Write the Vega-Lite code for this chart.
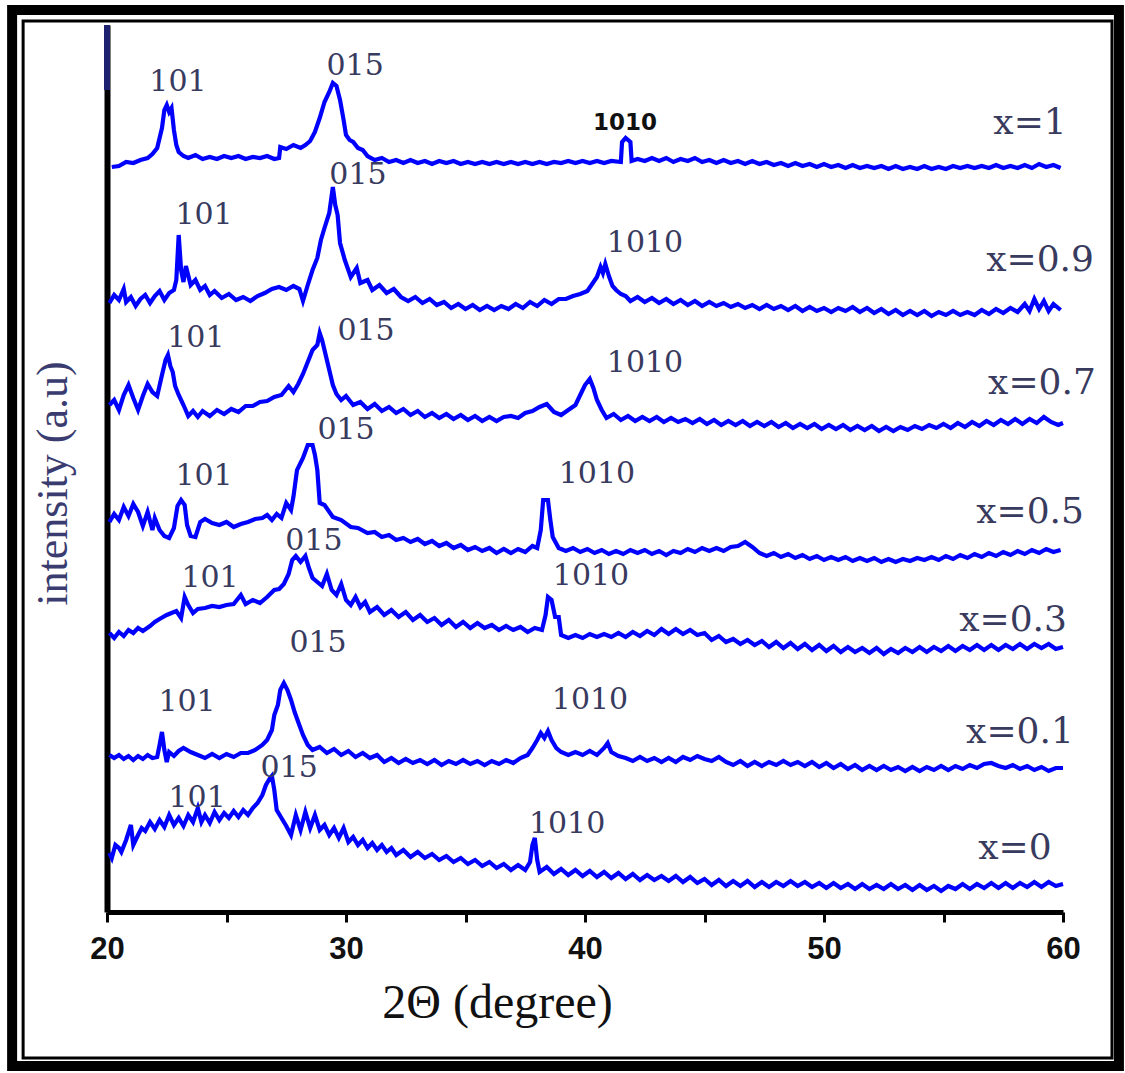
{
"$schema": "https://vega.github.io/schema/vega-lite/v6.json",
"width": 956, "height": 887,
"autosize": {"type": "none"},
"padding": {"left": 107, "top": 25, "right": 62, "bottom": 161},
"background": "white",
"config": {"view": {"stroke": null}},
"datasets": {
"xrd": [
{"s":"x=1","t":20.2,"i":745},{"s":"x=1","t":20.5,"i":746},{"s":"x=1","t":20.8,"i":750},{"s":"x=1","t":21.1,"i":749},{"s":"x=1","t":21.4,"i":752},{"s":"x=1","t":21.7,"i":754},{"s":"x=1","t":21.9,"i":758},{"s":"x=1","t":22.1,"i":764},{"s":"x=1","t":22.3,"i":784},{"s":"x=1","t":22.4,"i":802},{"s":"x=1","t":22.5,"i":807},{"s":"x=1","t":22.6,"i":800},{"s":"x=1","t":22.7,"i":804},{"s":"x=1","t":22.8,"i":782},{"s":"x=1","t":22.9,"i":767},{"s":"x=1","t":23.0,"i":760},{"s":"x=1","t":23.2,"i":756},{"s":"x=1","t":23.4,"i":754},{"s":"x=1","t":23.7,"i":757},{"s":"x=1","t":24.0,"i":753},{"s":"x=1","t":24.3,"i":755},{"s":"x=1","t":24.6,"i":753},{"s":"x=1","t":24.9,"i":756},{"s":"x=1","t":25.2,"i":754},{"s":"x=1","t":25.5,"i":756},{"s":"x=1","t":25.8,"i":753},{"s":"x=1","t":26.1,"i":755},{"s":"x=1","t":26.4,"i":754},{"s":"x=1","t":26.7,"i":756},{"s":"x=1","t":27.0,"i":753},{"s":"x=1","t":27.2,"i":754},{"s":"x=1","t":27.25,"i":765},{"s":"x=1","t":27.5,"i":763},{"s":"x=1","t":27.8,"i":767},{"s":"x=1","t":28.1,"i":764},{"s":"x=1","t":28.3,"i":767},{"s":"x=1","t":28.5,"i":771},{"s":"x=1","t":28.7,"i":780},{"s":"x=1","t":28.9,"i":794},{"s":"x=1","t":29.1,"i":810},{"s":"x=1","t":29.3,"i":820},{"s":"x=1","t":29.45,"i":829},{"s":"x=1","t":29.6,"i":826},{"s":"x=1","t":29.75,"i":812},{"s":"x=1","t":29.9,"i":792},{"s":"x=1","t":30.0,"i":777},{"s":"x=1","t":30.15,"i":772},{"s":"x=1","t":30.3,"i":770},{"s":"x=1","t":30.5,"i":764},{"s":"x=1","t":30.7,"i":762},{"s":"x=1","t":30.9,"i":756},{"s":"x=1","t":31.2,"i":752},{"s":"x=1","t":31.5,"i":754},{"s":"x=1","t":31.8,"i":750},{"s":"x=1","t":32.1,"i":752},{"s":"x=1","t":32.4,"i":749},{"s":"x=1","t":32.7,"i":752},{"s":"x=1","t":33.0,"i":749},{"s":"x=1","t":33.3,"i":751},{"s":"x=1","t":33.6,"i":748},{"s":"x=1","t":33.9,"i":751},{"s":"x=1","t":34.2,"i":749},{"s":"x=1","t":34.5,"i":751},{"s":"x=1","t":34.8,"i":748},{"s":"x=1","t":35.1,"i":750},{"s":"x=1","t":35.4,"i":748},{"s":"x=1","t":35.7,"i":750},{"s":"x=1","t":36.0,"i":748},{"s":"x=1","t":36.3,"i":750},{"s":"x=1","t":36.6,"i":748},{"s":"x=1","t":36.9,"i":750},{"s":"x=1","t":37.2,"i":748},{"s":"x=1","t":37.5,"i":750},{"s":"x=1","t":37.8,"i":748},{"s":"x=1","t":38.1,"i":750},{"s":"x=1","t":38.4,"i":748},{"s":"x=1","t":38.7,"i":750},{"s":"x=1","t":39.0,"i":749},{"s":"x=1","t":39.3,"i":751},{"s":"x=1","t":39.6,"i":749},{"s":"x=1","t":39.9,"i":751},{"s":"x=1","t":40.2,"i":749},{"s":"x=1","t":40.5,"i":751},{"s":"x=1","t":40.8,"i":749},{"s":"x=1","t":41.1,"i":751},{"s":"x=1","t":41.5,"i":750},{"s":"x=1","t":41.55,"i":770},{"s":"x=1","t":41.7,"i":774},{"s":"x=1","t":41.9,"i":770},{"s":"x=1","t":41.95,"i":751},{"s":"x=1","t":42.2,"i":753},{"s":"x=1","t":42.5,"i":751},{"s":"x=1","t":42.8,"i":754},{"s":"x=1","t":43.1,"i":751},{"s":"x=1","t":43.4,"i":754},{"s":"x=1","t":43.7,"i":750},{"s":"x=1","t":44.0,"i":753},{"s":"x=1","t":44.3,"i":751},{"s":"x=1","t":44.6,"i":754},{"s":"x=1","t":44.9,"i":750},{"s":"x=1","t":45.2,"i":752},{"s":"x=1","t":45.5,"i":749},{"s":"x=1","t":45.8,"i":752},{"s":"x=1","t":46.1,"i":749},{"s":"x=1","t":46.4,"i":751},{"s":"x=1","t":46.7,"i":748},{"s":"x=1","t":47.0,"i":751},{"s":"x=1","t":47.3,"i":748},{"s":"x=1","t":47.6,"i":750},{"s":"x=1","t":47.9,"i":747},{"s":"x=1","t":48.2,"i":749},{"s":"x=1","t":48.5,"i":746},{"s":"x=1","t":48.8,"i":749},{"s":"x=1","t":49.1,"i":746},{"s":"x=1","t":49.4,"i":748},{"s":"x=1","t":49.7,"i":745},{"s":"x=1","t":50.0,"i":748},{"s":"x=1","t":50.3,"i":745},{"s":"x=1","t":50.6,"i":747},{"s":"x=1","t":50.9,"i":744},{"s":"x=1","t":51.2,"i":747},{"s":"x=1","t":51.5,"i":744},{"s":"x=1","t":51.8,"i":746},{"s":"x=1","t":52.1,"i":744},{"s":"x=1","t":52.4,"i":746},{"s":"x=1","t":52.7,"i":743},{"s":"x=1","t":53.0,"i":746},{"s":"x=1","t":53.3,"i":743},{"s":"x=1","t":53.6,"i":745},{"s":"x=1","t":53.9,"i":743},{"s":"x=1","t":54.2,"i":746},{"s":"x=1","t":54.5,"i":743},{"s":"x=1","t":54.8,"i":745},{"s":"x=1","t":55.1,"i":743},{"s":"x=1","t":55.4,"i":746},{"s":"x=1","t":55.7,"i":744},{"s":"x=1","t":56.0,"i":746},{"s":"x=1","t":56.3,"i":744},{"s":"x=1","t":56.6,"i":746},{"s":"x=1","t":56.9,"i":744},{"s":"x=1","t":57.2,"i":747},{"s":"x=1","t":57.5,"i":744},{"s":"x=1","t":57.8,"i":746},{"s":"x=1","t":58.1,"i":744},{"s":"x=1","t":58.4,"i":747},{"s":"x=1","t":58.7,"i":744},{"s":"x=1","t":59.0,"i":748},{"s":"x=1","t":59.3,"i":745},{"s":"x=1","t":59.6,"i":747},{"s":"x=1","t":59.9,"i":744},

{"s":"x=0.9","t":20.1,"i":609},{"s":"x=0.9","t":20.3,"i":617},{"s":"x=0.9","t":20.5,"i":612},{"s":"x=0.9","t":20.7,"i":623},{"s":"x=0.9","t":20.8,"i":610},{"s":"x=0.9","t":21.0,"i":615},{"s":"x=0.9","t":21.2,"i":606},{"s":"x=0.9","t":21.4,"i":613},{"s":"x=0.9","t":21.6,"i":617},{"s":"x=0.9","t":21.8,"i":609},{"s":"x=0.9","t":22.0,"i":616},{"s":"x=0.9","t":22.2,"i":621},{"s":"x=0.9","t":22.4,"i":612},{"s":"x=0.9","t":22.6,"i":619},{"s":"x=0.9","t":22.8,"i":622},{"s":"x=0.9","t":22.9,"i":632},{"s":"x=0.9","t":23.0,"i":677},{"s":"x=0.9","t":23.1,"i":642},{"s":"x=0.9","t":23.2,"i":630},{"s":"x=0.9","t":23.3,"i":646},{"s":"x=0.9","t":23.5,"i":627},{"s":"x=0.9","t":23.7,"i":632},{"s":"x=0.9","t":23.9,"i":622},{"s":"x=0.9","t":24.1,"i":626},{"s":"x=0.9","t":24.3,"i":617},{"s":"x=0.9","t":24.5,"i":621},{"s":"x=0.9","t":24.8,"i":614},{"s":"x=0.9","t":25.1,"i":618},{"s":"x=0.9","t":25.4,"i":612},{"s":"x=0.9","t":25.7,"i":615},{"s":"x=0.9","t":26.0,"i":611},{"s":"x=0.9","t":26.3,"i":616},{"s":"x=0.9","t":26.6,"i":619},{"s":"x=0.9","t":26.9,"i":623},{"s":"x=0.9","t":27.2,"i":625},{"s":"x=0.9","t":27.5,"i":622},{"s":"x=0.9","t":27.8,"i":626},{"s":"x=0.9","t":28.05,"i":623},{"s":"x=0.9","t":28.2,"i":611},{"s":"x=0.9","t":28.4,"i":627},{"s":"x=0.9","t":28.6,"i":642},{"s":"x=0.9","t":28.8,"i":654},{"s":"x=0.9","t":28.95,"i":672},{"s":"x=0.9","t":29.1,"i":684},{"s":"x=0.9","t":29.3,"i":699},{"s":"x=0.9","t":29.45,"i":725},{"s":"x=0.9","t":29.55,"i":707},{"s":"x=0.9","t":29.65,"i":697},{"s":"x=0.9","t":29.75,"i":669},{"s":"x=0.9","t":29.95,"i":652},{"s":"x=0.9","t":30.2,"i":635},{"s":"x=0.9","t":30.45,"i":644},{"s":"x=0.9","t":30.6,"i":629},{"s":"x=0.9","t":30.9,"i":632},{"s":"x=0.9","t":31.1,"i":622},{"s":"x=0.9","t":31.4,"i":627},{"s":"x=0.9","t":31.7,"i":619},{"s":"x=0.9","t":32.0,"i":623},{"s":"x=0.9","t":32.3,"i":615},{"s":"x=0.9","t":32.6,"i":611},{"s":"x=0.9","t":32.9,"i":615},{"s":"x=0.9","t":33.2,"i":609},{"s":"x=0.9","t":33.5,"i":613},{"s":"x=0.9","t":33.8,"i":607},{"s":"x=0.9","t":34.1,"i":610},{"s":"x=0.9","t":34.4,"i":604},{"s":"x=0.9","t":34.7,"i":608},{"s":"x=0.9","t":35.0,"i":603},{"s":"x=0.9","t":35.3,"i":607},{"s":"x=0.9","t":35.6,"i":602},{"s":"x=0.9","t":35.9,"i":606},{"s":"x=0.9","t":36.2,"i":602},{"s":"x=0.9","t":36.5,"i":606},{"s":"x=0.9","t":36.8,"i":603},{"s":"x=0.9","t":37.1,"i":608},{"s":"x=0.9","t":37.4,"i":604},{"s":"x=0.9","t":37.7,"i":610},{"s":"x=0.9","t":38.0,"i":606},{"s":"x=0.9","t":38.3,"i":612},{"s":"x=0.9","t":38.6,"i":608},{"s":"x=0.9","t":38.9,"i":613},{"s":"x=0.9","t":39.2,"i":613},{"s":"x=0.9","t":39.5,"i":616},{"s":"x=0.9","t":39.8,"i":618},{"s":"x=0.9","t":40.1,"i":621},{"s":"x=0.9","t":40.3,"i":628},{"s":"x=0.9","t":40.5,"i":635},{"s":"x=0.9","t":40.65,"i":645},{"s":"x=0.9","t":40.75,"i":639},{"s":"x=0.9","t":40.85,"i":648},{"s":"x=0.9","t":41.0,"i":636},{"s":"x=0.9","t":41.15,"i":626},{"s":"x=0.9","t":41.3,"i":622},{"s":"x=0.9","t":41.5,"i":618},{"s":"x=0.9","t":41.7,"i":616},{"s":"x=0.9","t":41.9,"i":611},{"s":"x=0.9","t":42.2,"i":615},{"s":"x=0.9","t":42.5,"i":610},{"s":"x=0.9","t":42.8,"i":614},{"s":"x=0.9","t":43.1,"i":609},{"s":"x=0.9","t":43.4,"i":613},{"s":"x=0.9","t":43.7,"i":608},{"s":"x=0.9","t":44.0,"i":612},{"s":"x=0.9","t":44.3,"i":607},{"s":"x=0.9","t":44.6,"i":611},{"s":"x=0.9","t":44.9,"i":606},{"s":"x=0.9","t":45.2,"i":610},{"s":"x=0.9","t":45.5,"i":606},{"s":"x=0.9","t":45.8,"i":609},{"s":"x=0.9","t":46.1,"i":605},{"s":"x=0.9","t":46.4,"i":608},{"s":"x=0.9","t":46.7,"i":604},{"s":"x=0.9","t":47.0,"i":607},{"s":"x=0.9","t":47.3,"i":603},{"s":"x=0.9","t":47.6,"i":607},{"s":"x=0.9","t":47.9,"i":603},{"s":"x=0.9","t":48.2,"i":606},{"s":"x=0.9","t":48.5,"i":602},{"s":"x=0.9","t":48.8,"i":606},{"s":"x=0.9","t":49.1,"i":601},{"s":"x=0.9","t":49.4,"i":605},{"s":"x=0.9","t":49.7,"i":601},{"s":"x=0.9","t":50.0,"i":604},{"s":"x=0.9","t":50.3,"i":600},{"s":"x=0.9","t":50.6,"i":604},{"s":"x=0.9","t":50.9,"i":601},{"s":"x=0.9","t":51.2,"i":605},{"s":"x=0.9","t":51.5,"i":600},{"s":"x=0.9","t":51.8,"i":604},{"s":"x=0.9","t":52.1,"i":599},{"s":"x=0.9","t":52.4,"i":603},{"s":"x=0.9","t":52.7,"i":598},{"s":"x=0.9","t":53.0,"i":602},{"s":"x=0.9","t":53.3,"i":597},{"s":"x=0.9","t":53.6,"i":601},{"s":"x=0.9","t":53.9,"i":597},{"s":"x=0.9","t":54.2,"i":601},{"s":"x=0.9","t":54.5,"i":596},{"s":"x=0.9","t":54.8,"i":600},{"s":"x=0.9","t":55.1,"i":597},{"s":"x=0.9","t":55.4,"i":601},{"s":"x=0.9","t":55.7,"i":597},{"s":"x=0.9","t":56.0,"i":600},{"s":"x=0.9","t":56.3,"i":597},{"s":"x=0.9","t":56.6,"i":602},{"s":"x=0.9","t":56.9,"i":598},{"s":"x=0.9","t":57.2,"i":603},{"s":"x=0.9","t":57.5,"i":599},{"s":"x=0.9","t":57.8,"i":604},{"s":"x=0.9","t":58.1,"i":600},{"s":"x=0.9","t":58.4,"i":608},{"s":"x=0.9","t":58.6,"i":601},{"s":"x=0.9","t":58.8,"i":613},{"s":"x=0.9","t":59.0,"i":603},{"s":"x=0.9","t":59.2,"i":611},{"s":"x=0.9","t":59.4,"i":601},{"s":"x=0.9","t":59.6,"i":608},{"s":"x=0.9","t":59.9,"i":602},

{"s":"x=0.7","t":20.1,"i":507},{"s":"x=0.7","t":20.3,"i":512},{"s":"x=0.7","t":20.5,"i":502},{"s":"x=0.7","t":20.7,"i":517},{"s":"x=0.7","t":20.9,"i":527},{"s":"x=0.7","t":21.1,"i":514},{"s":"x=0.7","t":21.3,"i":502},{"s":"x=0.7","t":21.5,"i":516},{"s":"x=0.7","t":21.7,"i":528},{"s":"x=0.7","t":21.9,"i":520},{"s":"x=0.7","t":22.1,"i":516},{"s":"x=0.7","t":22.3,"i":537},{"s":"x=0.7","t":22.45,"i":552},{"s":"x=0.7","t":22.55,"i":557},{"s":"x=0.7","t":22.65,"i":546},{"s":"x=0.7","t":22.75,"i":540},{"s":"x=0.7","t":22.85,"i":526},{"s":"x=0.7","t":23.0,"i":517},{"s":"x=0.7","t":23.2,"i":507},{"s":"x=0.7","t":23.4,"i":496},{"s":"x=0.7","t":23.6,"i":501},{"s":"x=0.7","t":23.8,"i":495},{"s":"x=0.7","t":24.0,"i":501},{"s":"x=0.7","t":24.3,"i":496},{"s":"x=0.7","t":24.6,"i":502},{"s":"x=0.7","t":24.9,"i":498},{"s":"x=0.7","t":25.2,"i":503},{"s":"x=0.7","t":25.5,"i":500},{"s":"x=0.7","t":25.8,"i":506},{"s":"x=0.7","t":26.1,"i":506},{"s":"x=0.7","t":26.4,"i":510},{"s":"x=0.7","t":26.7,"i":511},{"s":"x=0.7","t":27.0,"i":515},{"s":"x=0.7","t":27.3,"i":517},{"s":"x=0.7","t":27.6,"i":526},{"s":"x=0.7","t":27.8,"i":520},{"s":"x=0.7","t":28.0,"i":528},{"s":"x=0.7","t":28.2,"i":538},{"s":"x=0.7","t":28.4,"i":550},{"s":"x=0.7","t":28.6,"i":562},{"s":"x=0.7","t":28.8,"i":567},{"s":"x=0.7","t":28.9,"i":579},{"s":"x=0.7","t":29.0,"i":572},{"s":"x=0.7","t":29.15,"i":557},{"s":"x=0.7","t":29.3,"i":542},{"s":"x=0.7","t":29.45,"i":527},{"s":"x=0.7","t":29.6,"i":518},{"s":"x=0.7","t":29.8,"i":512},{"s":"x=0.7","t":30.0,"i":516},{"s":"x=0.7","t":30.3,"i":507},{"s":"x=0.7","t":30.6,"i":510},{"s":"x=0.7","t":30.9,"i":503},{"s":"x=0.7","t":31.2,"i":508},{"s":"x=0.7","t":31.5,"i":501},{"s":"x=0.7","t":31.8,"i":505},{"s":"x=0.7","t":32.1,"i":499},{"s":"x=0.7","t":32.4,"i":503},{"s":"x=0.7","t":32.7,"i":497},{"s":"x=0.7","t":33.0,"i":501},{"s":"x=0.7","t":33.3,"i":495},{"s":"x=0.7","t":33.6,"i":499},{"s":"x=0.7","t":33.9,"i":494},{"s":"x=0.7","t":34.2,"i":498},{"s":"x=0.7","t":34.5,"i":493},{"s":"x=0.7","t":34.8,"i":497},{"s":"x=0.7","t":35.1,"i":492},{"s":"x=0.7","t":35.4,"i":496},{"s":"x=0.7","t":35.7,"i":491},{"s":"x=0.7","t":36.0,"i":495},{"s":"x=0.7","t":36.3,"i":491},{"s":"x=0.7","t":36.6,"i":495},{"s":"x=0.7","t":36.9,"i":496},{"s":"x=0.7","t":37.2,"i":494},{"s":"x=0.7","t":37.5,"i":499},{"s":"x=0.7","t":37.8,"i":501},{"s":"x=0.7","t":38.1,"i":505},{"s":"x=0.7","t":38.4,"i":508},{"s":"x=0.7","t":38.7,"i":500},{"s":"x=0.7","t":39.0,"i":497},{"s":"x=0.7","t":39.3,"i":502},{"s":"x=0.7","t":39.6,"i":507},{"s":"x=0.7","t":39.8,"i":517},{"s":"x=0.7","t":40.0,"i":527},{"s":"x=0.7","t":40.2,"i":533},{"s":"x=0.7","t":40.35,"i":524},{"s":"x=0.7","t":40.5,"i":512},{"s":"x=0.7","t":40.7,"i":502},{"s":"x=0.7","t":40.9,"i":494},{"s":"x=0.7","t":41.2,"i":498},{"s":"x=0.7","t":41.5,"i":492},{"s":"x=0.7","t":41.8,"i":496},{"s":"x=0.7","t":42.1,"i":491},{"s":"x=0.7","t":42.4,"i":495},{"s":"x=0.7","t":42.7,"i":491},{"s":"x=0.7","t":43.0,"i":495},{"s":"x=0.7","t":43.3,"i":490},{"s":"x=0.7","t":43.6,"i":494},{"s":"x=0.7","t":43.9,"i":490},{"s":"x=0.7","t":44.2,"i":493},{"s":"x=0.7","t":44.5,"i":489},{"s":"x=0.7","t":44.8,"i":493},{"s":"x=0.7","t":45.1,"i":488},{"s":"x=0.7","t":45.4,"i":492},{"s":"x=0.7","t":45.7,"i":487},{"s":"x=0.7","t":46.0,"i":491},{"s":"x=0.7","t":46.3,"i":487},{"s":"x=0.7","t":46.6,"i":491},{"s":"x=0.7","t":46.9,"i":486},{"s":"x=0.7","t":47.2,"i":490},{"s":"x=0.7","t":47.5,"i":486},{"s":"x=0.7","t":47.8,"i":490},{"s":"x=0.7","t":48.1,"i":485},{"s":"x=0.7","t":48.4,"i":489},{"s":"x=0.7","t":48.7,"i":484},{"s":"x=0.7","t":49.0,"i":488},{"s":"x=0.7","t":49.3,"i":484},{"s":"x=0.7","t":49.6,"i":488},{"s":"x=0.7","t":49.9,"i":483},{"s":"x=0.7","t":50.2,"i":487},{"s":"x=0.7","t":50.5,"i":483},{"s":"x=0.7","t":50.8,"i":487},{"s":"x=0.7","t":51.1,"i":482},{"s":"x=0.7","t":51.4,"i":486},{"s":"x=0.7","t":51.7,"i":482},{"s":"x=0.7","t":52.0,"i":486},{"s":"x=0.7","t":52.3,"i":481},{"s":"x=0.7","t":52.6,"i":485},{"s":"x=0.7","t":52.9,"i":481},{"s":"x=0.7","t":53.2,"i":485},{"s":"x=0.7","t":53.5,"i":482},{"s":"x=0.7","t":53.8,"i":486},{"s":"x=0.7","t":54.1,"i":483},{"s":"x=0.7","t":54.4,"i":487},{"s":"x=0.7","t":54.7,"i":484},{"s":"x=0.7","t":55.0,"i":488},{"s":"x=0.7","t":55.3,"i":484},{"s":"x=0.7","t":55.6,"i":489},{"s":"x=0.7","t":55.9,"i":485},{"s":"x=0.7","t":56.2,"i":490},{"s":"x=0.7","t":56.5,"i":486},{"s":"x=0.7","t":56.8,"i":491},{"s":"x=0.7","t":57.1,"i":487},{"s":"x=0.7","t":57.4,"i":492},{"s":"x=0.7","t":57.7,"i":488},{"s":"x=0.7","t":58.0,"i":493},{"s":"x=0.7","t":58.3,"i":488},{"s":"x=0.7","t":58.6,"i":493},{"s":"x=0.7","t":58.9,"i":489},{"s":"x=0.7","t":59.2,"i":495},{"s":"x=0.7","t":59.5,"i":490},{"s":"x=0.7","t":59.8,"i":487},{"s":"x=0.7","t":60.0,"i":489},

{"s":"x=0.5","t":20.1,"i":390},{"s":"x=0.5","t":20.3,"i":398},{"s":"x=0.5","t":20.5,"i":392},{"s":"x=0.5","t":20.7,"i":405},{"s":"x=0.5","t":20.9,"i":396},{"s":"x=0.5","t":21.1,"i":408},{"s":"x=0.5","t":21.3,"i":400},{"s":"x=0.5","t":21.5,"i":386},{"s":"x=0.5","t":21.7,"i":400},{"s":"x=0.5","t":21.9,"i":382},{"s":"x=0.5","t":22.0,"i":394},{"s":"x=0.5","t":22.2,"i":382},{"s":"x=0.5","t":22.4,"i":376},{"s":"x=0.5","t":22.6,"i":374},{"s":"x=0.5","t":22.8,"i":384},{"s":"x=0.5","t":22.95,"i":406},{"s":"x=0.5","t":23.1,"i":412},{"s":"x=0.5","t":23.25,"i":407},{"s":"x=0.5","t":23.35,"i":387},{"s":"x=0.5","t":23.5,"i":376},{"s":"x=0.5","t":23.7,"i":375},{"s":"x=0.5","t":23.9,"i":390},{"s":"x=0.5","t":24.1,"i":393},{"s":"x=0.5","t":24.4,"i":389},{"s":"x=0.5","t":24.7,"i":387},{"s":"x=0.5","t":25.0,"i":390},{"s":"x=0.5","t":25.3,"i":385},{"s":"x=0.5","t":25.6,"i":388},{"s":"x=0.5","t":25.9,"i":390},{"s":"x=0.5","t":26.2,"i":393},{"s":"x=0.5","t":26.5,"i":394},{"s":"x=0.5","t":26.7,"i":397},{"s":"x=0.5","t":26.9,"i":392},{"s":"x=0.5","t":27.1,"i":398},{"s":"x=0.5","t":27.3,"i":394},{"s":"x=0.5","t":27.5,"i":409},{"s":"x=0.5","t":27.7,"i":402},{"s":"x=0.5","t":27.8,"i":415},{"s":"x=0.5","t":27.95,"i":442},{"s":"x=0.5","t":28.2,"i":454},{"s":"x=0.5","t":28.4,"i":467},{"s":"x=0.5","t":28.6,"i":467},{"s":"x=0.5","t":28.7,"i":457},{"s":"x=0.5","t":28.8,"i":442},{"s":"x=0.5","t":28.9,"i":409},{"s":"x=0.5","t":29.1,"i":407},{"s":"x=0.5","t":29.45,"i":395},{"s":"x=0.5","t":29.8,"i":392},{"s":"x=0.5","t":30.2,"i":385},{"s":"x=0.5","t":30.5,"i":384},{"s":"x=0.5","t":30.9,"i":379},{"s":"x=0.5","t":31.2,"i":380},{"s":"x=0.5","t":31.5,"i":375},{"s":"x=0.5","t":31.8,"i":377},{"s":"x=0.5","t":32.1,"i":372},{"s":"x=0.5","t":32.4,"i":374},{"s":"x=0.5","t":32.7,"i":370},{"s":"x=0.5","t":33.0,"i":373},{"s":"x=0.5","t":33.3,"i":368},{"s":"x=0.5","t":33.6,"i":371},{"s":"x=0.5","t":33.9,"i":366},{"s":"x=0.5","t":34.2,"i":369},{"s":"x=0.5","t":34.5,"i":364},{"s":"x=0.5","t":34.8,"i":367},{"s":"x=0.5","t":35.1,"i":362},{"s":"x=0.5","t":35.4,"i":365},{"s":"x=0.5","t":35.7,"i":361},{"s":"x=0.5","t":36.0,"i":364},{"s":"x=0.5","t":36.3,"i":359},{"s":"x=0.5","t":36.6,"i":363},{"s":"x=0.5","t":36.9,"i":359},{"s":"x=0.5","t":37.2,"i":363},{"s":"x=0.5","t":37.5,"i":360},{"s":"x=0.5","t":37.8,"i":366},{"s":"x=0.5","t":38.0,"i":364},{"s":"x=0.5","t":38.15,"i":382},{"s":"x=0.5","t":38.25,"i":412},{"s":"x=0.5","t":38.45,"i":412},{"s":"x=0.5","t":38.55,"i":392},{"s":"x=0.5","t":38.65,"i":375},{"s":"x=0.5","t":38.9,"i":364},{"s":"x=0.5","t":39.2,"i":361},{"s":"x=0.5","t":39.5,"i":364},{"s":"x=0.5","t":39.8,"i":360},{"s":"x=0.5","t":40.1,"i":363},{"s":"x=0.5","t":40.4,"i":359},{"s":"x=0.5","t":40.7,"i":362},{"s":"x=0.5","t":41.0,"i":358},{"s":"x=0.5","t":41.3,"i":361},{"s":"x=0.5","t":41.6,"i":358},{"s":"x=0.5","t":41.9,"i":362},{"s":"x=0.5","t":42.2,"i":359},{"s":"x=0.5","t":42.5,"i":362},{"s":"x=0.5","t":42.8,"i":358},{"s":"x=0.5","t":43.1,"i":361},{"s":"x=0.5","t":43.4,"i":357},{"s":"x=0.5","t":43.7,"i":361},{"s":"x=0.5","t":44.0,"i":359},{"s":"x=0.5","t":44.3,"i":363},{"s":"x=0.5","t":44.6,"i":360},{"s":"x=0.5","t":44.9,"i":364},{"s":"x=0.5","t":45.2,"i":361},{"s":"x=0.5","t":45.5,"i":364},{"s":"x=0.5","t":45.8,"i":361},{"s":"x=0.5","t":46.1,"i":365},{"s":"x=0.5","t":46.4,"i":366},{"s":"x=0.5","t":46.7,"i":370},{"s":"x=0.5","t":47.0,"i":365},{"s":"x=0.5","t":47.3,"i":359},{"s":"x=0.5","t":47.6,"i":356},{"s":"x=0.5","t":47.9,"i":359},{"s":"x=0.5","t":48.2,"i":355},{"s":"x=0.5","t":48.5,"i":358},{"s":"x=0.5","t":48.8,"i":354},{"s":"x=0.5","t":49.1,"i":357},{"s":"x=0.5","t":49.4,"i":353},{"s":"x=0.5","t":49.7,"i":356},{"s":"x=0.5","t":50.0,"i":352},{"s":"x=0.5","t":50.3,"i":355},{"s":"x=0.5","t":50.6,"i":352},{"s":"x=0.5","t":50.9,"i":355},{"s":"x=0.5","t":51.2,"i":351},{"s":"x=0.5","t":51.5,"i":354},{"s":"x=0.5","t":51.8,"i":351},{"s":"x=0.5","t":52.1,"i":354},{"s":"x=0.5","t":52.4,"i":350},{"s":"x=0.5","t":52.7,"i":353},{"s":"x=0.5","t":53.0,"i":350},{"s":"x=0.5","t":53.3,"i":353},{"s":"x=0.5","t":53.6,"i":351},{"s":"x=0.5","t":53.9,"i":354},{"s":"x=0.5","t":54.2,"i":352},{"s":"x=0.5","t":54.5,"i":355},{"s":"x=0.5","t":54.8,"i":352},{"s":"x=0.5","t":55.1,"i":356},{"s":"x=0.5","t":55.4,"i":353},{"s":"x=0.5","t":55.7,"i":357},{"s":"x=0.5","t":56.0,"i":354},{"s":"x=0.5","t":56.3,"i":358},{"s":"x=0.5","t":56.6,"i":355},{"s":"x=0.5","t":56.9,"i":359},{"s":"x=0.5","t":57.2,"i":356},{"s":"x=0.5","t":57.5,"i":360},{"s":"x=0.5","t":57.8,"i":357},{"s":"x=0.5","t":58.1,"i":361},{"s":"x=0.5","t":58.4,"i":358},{"s":"x=0.5","t":58.7,"i":362},{"s":"x=0.5","t":59.0,"i":359},{"s":"x=0.5","t":59.3,"i":363},{"s":"x=0.5","t":59.6,"i":360},{"s":"x=0.5","t":59.9,"i":362},

{"s":"x=0.3","t":20.1,"i":279},{"s":"x=0.3","t":20.3,"i":274},{"s":"x=0.3","t":20.5,"i":280},{"s":"x=0.3","t":20.7,"i":276},{"s":"x=0.3","t":20.9,"i":282},{"s":"x=0.3","t":21.1,"i":279},{"s":"x=0.3","t":21.3,"i":284},{"s":"x=0.3","t":21.5,"i":281},{"s":"x=0.3","t":21.8,"i":286},{"s":"x=0.3","t":22.0,"i":290},{"s":"x=0.3","t":22.2,"i":293},{"s":"x=0.3","t":22.5,"i":297},{"s":"x=0.3","t":22.7,"i":299},{"s":"x=0.3","t":22.9,"i":301},{"s":"x=0.3","t":23.1,"i":294},{"s":"x=0.3","t":23.25,"i":315},{"s":"x=0.3","t":23.4,"i":307},{"s":"x=0.3","t":23.6,"i":299},{"s":"x=0.3","t":23.8,"i":303},{"s":"x=0.3","t":24.1,"i":304},{"s":"x=0.3","t":24.4,"i":306},{"s":"x=0.3","t":24.7,"i":305},{"s":"x=0.3","t":25.0,"i":307},{"s":"x=0.3","t":25.3,"i":308},{"s":"x=0.3","t":25.6,"i":317},{"s":"x=0.3","t":25.8,"i":308},{"s":"x=0.3","t":26.1,"i":312},{"s":"x=0.3","t":26.4,"i":309},{"s":"x=0.3","t":26.7,"i":315},{"s":"x=0.3","t":27.0,"i":322},{"s":"x=0.3","t":27.2,"i":323},{"s":"x=0.3","t":27.4,"i":328},{"s":"x=0.3","t":27.6,"i":338},{"s":"x=0.3","t":27.75,"i":352},{"s":"x=0.3","t":27.9,"i":356},{"s":"x=0.3","t":28.1,"i":350},{"s":"x=0.3","t":28.3,"i":356},{"s":"x=0.3","t":28.45,"i":344},{"s":"x=0.3","t":28.6,"i":334},{"s":"x=0.3","t":28.8,"i":330},{"s":"x=0.3","t":29.0,"i":326},{"s":"x=0.3","t":29.2,"i":338},{"s":"x=0.3","t":29.4,"i":322},{"s":"x=0.3","t":29.6,"i":317},{"s":"x=0.3","t":29.8,"i":328},{"s":"x=0.3","t":30.0,"i":312},{"s":"x=0.3","t":30.2,"i":307},{"s":"x=0.3","t":30.4,"i":315},{"s":"x=0.3","t":30.6,"i":305},{"s":"x=0.3","t":30.8,"i":310},{"s":"x=0.3","t":31.0,"i":300},{"s":"x=0.3","t":31.3,"i":305},{"s":"x=0.3","t":31.6,"i":297},{"s":"x=0.3","t":31.9,"i":302},{"s":"x=0.3","t":32.2,"i":295},{"s":"x=0.3","t":32.5,"i":300},{"s":"x=0.3","t":32.8,"i":292},{"s":"x=0.3","t":33.1,"i":297},{"s":"x=0.3","t":33.4,"i":290},{"s":"x=0.3","t":33.7,"i":294},{"s":"x=0.3","t":34.0,"i":287},{"s":"x=0.3","t":34.3,"i":292},{"s":"x=0.3","t":34.6,"i":285},{"s":"x=0.3","t":34.9,"i":290},{"s":"x=0.3","t":35.2,"i":284},{"s":"x=0.3","t":35.5,"i":289},{"s":"x=0.3","t":35.8,"i":284},{"s":"x=0.3","t":36.1,"i":287},{"s":"x=0.3","t":36.4,"i":282},{"s":"x=0.3","t":36.7,"i":286},{"s":"x=0.3","t":37.0,"i":282},{"s":"x=0.3","t":37.3,"i":285},{"s":"x=0.3","t":37.6,"i":280},{"s":"x=0.3","t":37.9,"i":284},{"s":"x=0.3","t":38.2,"i":282},{"s":"x=0.3","t":38.35,"i":297},{"s":"x=0.3","t":38.45,"i":315},{"s":"x=0.3","t":38.6,"i":312},{"s":"x=0.3","t":38.75,"i":295},{"s":"x=0.3","t":38.9,"i":295},{"s":"x=0.3","t":39.0,"i":277},{"s":"x=0.3","t":39.3,"i":274},{"s":"x=0.3","t":39.6,"i":277},{"s":"x=0.3","t":39.9,"i":274},{"s":"x=0.3","t":40.2,"i":278},{"s":"x=0.3","t":40.5,"i":275},{"s":"x=0.3","t":40.8,"i":278},{"s":"x=0.3","t":41.1,"i":275},{"s":"x=0.3","t":41.4,"i":279},{"s":"x=0.3","t":41.7,"i":275},{"s":"x=0.3","t":42.0,"i":280},{"s":"x=0.3","t":42.3,"i":276},{"s":"x=0.3","t":42.6,"i":281},{"s":"x=0.3","t":42.9,"i":277},{"s":"x=0.3","t":43.2,"i":283},{"s":"x=0.3","t":43.5,"i":278},{"s":"x=0.3","t":43.8,"i":283},{"s":"x=0.3","t":44.1,"i":278},{"s":"x=0.3","t":44.4,"i":282},{"s":"x=0.3","t":44.7,"i":277},{"s":"x=0.3","t":45.0,"i":279},{"s":"x=0.3","t":45.3,"i":272},{"s":"x=0.3","t":45.6,"i":276},{"s":"x=0.3","t":45.9,"i":270},{"s":"x=0.3","t":46.2,"i":273},{"s":"x=0.3","t":46.5,"i":268},{"s":"x=0.3","t":46.8,"i":272},{"s":"x=0.3","t":47.1,"i":267},{"s":"x=0.3","t":47.4,"i":271},{"s":"x=0.3","t":47.7,"i":265},{"s":"x=0.3","t":48.0,"i":270},{"s":"x=0.3","t":48.3,"i":264},{"s":"x=0.3","t":48.6,"i":269},{"s":"x=0.3","t":48.9,"i":263},{"s":"x=0.3","t":49.2,"i":268},{"s":"x=0.3","t":49.5,"i":262},{"s":"x=0.3","t":49.8,"i":267},{"s":"x=0.3","t":50.1,"i":261},{"s":"x=0.3","t":50.4,"i":266},{"s":"x=0.3","t":50.7,"i":260},{"s":"x=0.3","t":51.0,"i":265},{"s":"x=0.3","t":51.3,"i":260},{"s":"x=0.3","t":51.6,"i":264},{"s":"x=0.3","t":51.9,"i":259},{"s":"x=0.3","t":52.2,"i":264},{"s":"x=0.3","t":52.5,"i":258},{"s":"x=0.3","t":52.8,"i":263},{"s":"x=0.3","t":53.1,"i":259},{"s":"x=0.3","t":53.4,"i":264},{"s":"x=0.3","t":53.7,"i":260},{"s":"x=0.3","t":54.0,"i":265},{"s":"x=0.3","t":54.3,"i":260},{"s":"x=0.3","t":54.6,"i":265},{"s":"x=0.3","t":54.9,"i":261},{"s":"x=0.3","t":55.2,"i":266},{"s":"x=0.3","t":55.5,"i":261},{"s":"x=0.3","t":55.8,"i":266},{"s":"x=0.3","t":56.1,"i":262},{"s":"x=0.3","t":56.4,"i":267},{"s":"x=0.3","t":56.7,"i":262},{"s":"x=0.3","t":57.0,"i":267},{"s":"x=0.3","t":57.3,"i":262},{"s":"x=0.3","t":57.6,"i":267},{"s":"x=0.3","t":57.9,"i":263},{"s":"x=0.3","t":58.2,"i":268},{"s":"x=0.3","t":58.5,"i":263},{"s":"x=0.3","t":58.8,"i":268},{"s":"x=0.3","t":59.1,"i":264},{"s":"x=0.3","t":59.4,"i":268},{"s":"x=0.3","t":59.7,"i":263},{"s":"x=0.3","t":60.0,"i":265},

{"s":"x=0.1","t":20.1,"i":157},{"s":"x=0.1","t":20.3,"i":154},{"s":"x=0.1","t":20.5,"i":157},{"s":"x=0.1","t":20.7,"i":153},{"s":"x=0.1","t":20.9,"i":156},{"s":"x=0.1","t":21.1,"i":152},{"s":"x=0.1","t":21.3,"i":156},{"s":"x=0.1","t":21.5,"i":153},{"s":"x=0.1","t":21.7,"i":157},{"s":"x=0.1","t":21.9,"i":154},{"s":"x=0.1","t":22.1,"i":155},{"s":"x=0.1","t":22.2,"i":167},{"s":"x=0.1","t":22.3,"i":180},{"s":"x=0.1","t":22.4,"i":162},{"s":"x=0.1","t":22.5,"i":150},{"s":"x=0.1","t":22.6,"i":160},{"s":"x=0.1","t":22.8,"i":156},{"s":"x=0.1","t":23.0,"i":161},{"s":"x=0.1","t":23.2,"i":164},{"s":"x=0.1","t":23.5,"i":160},{"s":"x=0.1","t":23.8,"i":157},{"s":"x=0.1","t":24.1,"i":154},{"s":"x=0.1","t":24.4,"i":158},{"s":"x=0.1","t":24.7,"i":154},{"s":"x=0.1","t":25.0,"i":158},{"s":"x=0.1","t":25.3,"i":155},{"s":"x=0.1","t":25.6,"i":159},{"s":"x=0.1","t":25.9,"i":159},{"s":"x=0.1","t":26.2,"i":162},{"s":"x=0.1","t":26.5,"i":167},{"s":"x=0.1","t":26.7,"i":172},{"s":"x=0.1","t":26.9,"i":182},{"s":"x=0.1","t":27.0,"i":197},{"s":"x=0.1","t":27.15,"i":207},{"s":"x=0.1","t":27.25,"i":222},{"s":"x=0.1","t":27.4,"i":229},{"s":"x=0.1","t":27.55,"i":222},{"s":"x=0.1","t":27.7,"i":212},{"s":"x=0.1","t":27.85,"i":200},{"s":"x=0.1","t":28.0,"i":190},{"s":"x=0.1","t":28.2,"i":177},{"s":"x=0.1","t":28.4,"i":167},{"s":"x=0.1","t":28.6,"i":162},{"s":"x=0.1","t":28.9,"i":165},{"s":"x=0.1","t":29.2,"i":159},{"s":"x=0.1","t":29.5,"i":163},{"s":"x=0.1","t":29.8,"i":157},{"s":"x=0.1","t":30.1,"i":161},{"s":"x=0.1","t":30.4,"i":155},{"s":"x=0.1","t":30.7,"i":159},{"s":"x=0.1","t":31.0,"i":154},{"s":"x=0.1","t":31.3,"i":157},{"s":"x=0.1","t":31.6,"i":150},{"s":"x=0.1","t":31.9,"i":154},{"s":"x=0.1","t":32.2,"i":149},{"s":"x=0.1","t":32.5,"i":153},{"s":"x=0.1","t":32.8,"i":149},{"s":"x=0.1","t":33.1,"i":152},{"s":"x=0.1","t":33.4,"i":148},{"s":"x=0.1","t":33.7,"i":152},{"s":"x=0.1","t":34.0,"i":147},{"s":"x=0.1","t":34.3,"i":151},{"s":"x=0.1","t":34.6,"i":148},{"s":"x=0.1","t":34.9,"i":152},{"s":"x=0.1","t":35.2,"i":148},{"s":"x=0.1","t":35.5,"i":151},{"s":"x=0.1","t":35.8,"i":147},{"s":"x=0.1","t":36.1,"i":151},{"s":"x=0.1","t":36.4,"i":148},{"s":"x=0.1","t":36.7,"i":152},{"s":"x=0.1","t":37.0,"i":149},{"s":"x=0.1","t":37.3,"i":154},{"s":"x=0.1","t":37.6,"i":157},{"s":"x=0.1","t":37.8,"i":164},{"s":"x=0.1","t":38.0,"i":172},{"s":"x=0.1","t":38.15,"i":179},{"s":"x=0.1","t":38.3,"i":174},{"s":"x=0.1","t":38.45,"i":181},{"s":"x=0.1","t":38.6,"i":172},{"s":"x=0.1","t":38.8,"i":164},{"s":"x=0.1","t":39.0,"i":160},{"s":"x=0.1","t":39.3,"i":157},{"s":"x=0.1","t":39.6,"i":160},{"s":"x=0.1","t":39.9,"i":157},{"s":"x=0.1","t":40.2,"i":161},{"s":"x=0.1","t":40.5,"i":157},{"s":"x=0.1","t":40.8,"i":164},{"s":"x=0.1","t":40.95,"i":169},{"s":"x=0.1","t":41.1,"i":160},{"s":"x=0.1","t":41.4,"i":156},{"s":"x=0.1","t":41.7,"i":154},{"s":"x=0.1","t":42.0,"i":151},{"s":"x=0.1","t":42.3,"i":155},{"s":"x=0.1","t":42.6,"i":151},{"s":"x=0.1","t":42.9,"i":154},{"s":"x=0.1","t":43.2,"i":150},{"s":"x=0.1","t":43.5,"i":154},{"s":"x=0.1","t":43.8,"i":150},{"s":"x=0.1","t":44.1,"i":155},{"s":"x=0.1","t":44.4,"i":152},{"s":"x=0.1","t":44.7,"i":156},{"s":"x=0.1","t":45.0,"i":153},{"s":"x=0.1","t":45.3,"i":151},{"s":"x=0.1","t":45.6,"i":155},{"s":"x=0.1","t":45.9,"i":150},{"s":"x=0.1","t":46.2,"i":147},{"s":"x=0.1","t":46.5,"i":151},{"s":"x=0.1","t":46.8,"i":146},{"s":"x=0.1","t":47.1,"i":150},{"s":"x=0.1","t":47.4,"i":146},{"s":"x=0.1","t":47.7,"i":150},{"s":"x=0.1","t":48.0,"i":147},{"s":"x=0.1","t":48.3,"i":151},{"s":"x=0.1","t":48.6,"i":147},{"s":"x=0.1","t":48.9,"i":150},{"s":"x=0.1","t":49.2,"i":146},{"s":"x=0.1","t":49.5,"i":150},{"s":"x=0.1","t":49.8,"i":145},{"s":"x=0.1","t":50.1,"i":149},{"s":"x=0.1","t":50.4,"i":144},{"s":"x=0.1","t":50.7,"i":148},{"s":"x=0.1","t":51.0,"i":143},{"s":"x=0.1","t":51.3,"i":147},{"s":"x=0.1","t":51.6,"i":142},{"s":"x=0.1","t":51.9,"i":146},{"s":"x=0.1","t":52.2,"i":142},{"s":"x=0.1","t":52.5,"i":146},{"s":"x=0.1","t":52.8,"i":142},{"s":"x=0.1","t":53.1,"i":145},{"s":"x=0.1","t":53.4,"i":141},{"s":"x=0.1","t":53.7,"i":145},{"s":"x=0.1","t":54.0,"i":141},{"s":"x=0.1","t":54.3,"i":145},{"s":"x=0.1","t":54.6,"i":142},{"s":"x=0.1","t":54.9,"i":146},{"s":"x=0.1","t":55.2,"i":142},{"s":"x=0.1","t":55.5,"i":146},{"s":"x=0.1","t":55.8,"i":143},{"s":"x=0.1","t":56.1,"i":147},{"s":"x=0.1","t":56.4,"i":144},{"s":"x=0.1","t":56.7,"i":148},{"s":"x=0.1","t":57.0,"i":149},{"s":"x=0.1","t":57.3,"i":146},{"s":"x=0.1","t":57.6,"i":144},{"s":"x=0.1","t":57.9,"i":147},{"s":"x=0.1","t":58.2,"i":143},{"s":"x=0.1","t":58.5,"i":146},{"s":"x=0.1","t":58.8,"i":142},{"s":"x=0.1","t":59.1,"i":145},{"s":"x=0.1","t":59.4,"i":141},{"s":"x=0.1","t":59.7,"i":144},{"s":"x=0.1","t":60.0,"i":144},

{"s":"x=0","t":20.1,"i":59},{"s":"x=0","t":20.2,"i":54},{"s":"x=0","t":20.35,"i":67},{"s":"x=0","t":20.5,"i":64},{"s":"x=0","t":20.6,"i":60},{"s":"x=0","t":20.8,"i":72},{"s":"x=0","t":21.0,"i":87},{"s":"x=0","t":21.1,"i":67},{"s":"x=0","t":21.3,"i":77},{"s":"x=0","t":21.45,"i":84},{"s":"x=0","t":21.6,"i":81},{"s":"x=0","t":21.8,"i":90},{"s":"x=0","t":22.0,"i":83},{"s":"x=0","t":22.2,"i":92},{"s":"x=0","t":22.4,"i":85},{"s":"x=0","t":22.6,"i":97},{"s":"x=0","t":22.8,"i":87},{"s":"x=0","t":23.0,"i":94},{"s":"x=0","t":23.2,"i":86},{"s":"x=0","t":23.4,"i":97},{"s":"x=0","t":23.6,"i":90},{"s":"x=0","t":23.8,"i":104},{"s":"x=0","t":23.95,"i":90},{"s":"x=0","t":24.1,"i":97},{"s":"x=0","t":24.3,"i":89},{"s":"x=0","t":24.5,"i":100},{"s":"x=0","t":24.7,"i":92},{"s":"x=0","t":24.9,"i":99},{"s":"x=0","t":25.1,"i":94},{"s":"x=0","t":25.3,"i":101},{"s":"x=0","t":25.5,"i":95},{"s":"x=0","t":25.7,"i":102},{"s":"x=0","t":25.9,"i":97},{"s":"x=0","t":26.1,"i":104},{"s":"x=0","t":26.3,"i":109},{"s":"x=0","t":26.5,"i":117},{"s":"x=0","t":26.65,"i":127},{"s":"x=0","t":26.8,"i":133},{"s":"x=0","t":26.9,"i":136},{"s":"x=0","t":27.0,"i":122},{"s":"x=0","t":27.1,"i":102},{"s":"x=0","t":27.3,"i":94},{"s":"x=0","t":27.5,"i":86},{"s":"x=0","t":27.7,"i":77},{"s":"x=0","t":27.9,"i":97},{"s":"x=0","t":28.1,"i":82},{"s":"x=0","t":28.3,"i":100},{"s":"x=0","t":28.5,"i":84},{"s":"x=0","t":28.7,"i":97},{"s":"x=0","t":28.9,"i":82},{"s":"x=0","t":29.1,"i":87},{"s":"x=0","t":29.3,"i":77},{"s":"x=0","t":29.5,"i":84},{"s":"x=0","t":29.7,"i":74},{"s":"x=0","t":29.9,"i":84},{"s":"x=0","t":30.1,"i":70},{"s":"x=0","t":30.3,"i":75},{"s":"x=0","t":30.5,"i":67},{"s":"x=0","t":30.7,"i":72},{"s":"x=0","t":30.9,"i":64},{"s":"x=0","t":31.1,"i":69},{"s":"x=0","t":31.3,"i":62},{"s":"x=0","t":31.5,"i":67},{"s":"x=0","t":31.7,"i":60},{"s":"x=0","t":31.9,"i":64},{"s":"x=0","t":32.1,"i":57},{"s":"x=0","t":32.4,"i":62},{"s":"x=0","t":32.7,"i":55},{"s":"x=0","t":33.0,"i":60},{"s":"x=0","t":33.3,"i":54},{"s":"x=0","t":33.6,"i":58},{"s":"x=0","t":33.9,"i":52},{"s":"x=0","t":34.2,"i":56},{"s":"x=0","t":34.5,"i":50},{"s":"x=0","t":34.8,"i":54},{"s":"x=0","t":35.1,"i":48},{"s":"x=0","t":35.4,"i":52},{"s":"x=0","t":35.7,"i":46},{"s":"x=0","t":36.0,"i":50},{"s":"x=0","t":36.3,"i":44},{"s":"x=0","t":36.6,"i":48},{"s":"x=0","t":36.9,"i":42},{"s":"x=0","t":37.2,"i":47},{"s":"x=0","t":37.5,"i":42},{"s":"x=0","t":37.7,"i":50},{"s":"x=0","t":37.8,"i":67},{"s":"x=0","t":37.9,"i":74},{"s":"x=0","t":38.0,"i":52},{"s":"x=0","t":38.1,"i":40},{"s":"x=0","t":38.4,"i":45},{"s":"x=0","t":38.7,"i":38},{"s":"x=0","t":39.0,"i":43},{"s":"x=0","t":39.3,"i":37},{"s":"x=0","t":39.6,"i":42},{"s":"x=0","t":39.9,"i":36},{"s":"x=0","t":40.2,"i":41},{"s":"x=0","t":40.5,"i":35},{"s":"x=0","t":40.8,"i":40},{"s":"x=0","t":41.1,"i":34},{"s":"x=0","t":41.4,"i":39},{"s":"x=0","t":41.7,"i":33},{"s":"x=0","t":42.0,"i":38},{"s":"x=0","t":42.3,"i":32},{"s":"x=0","t":42.6,"i":37},{"s":"x=0","t":42.9,"i":32},{"s":"x=0","t":43.2,"i":36},{"s":"x=0","t":43.5,"i":31},{"s":"x=0","t":43.8,"i":36},{"s":"x=0","t":44.1,"i":30},{"s":"x=0","t":44.4,"i":35},{"s":"x=0","t":44.7,"i":29},{"s":"x=0","t":45.0,"i":33},{"s":"x=0","t":45.3,"i":27},{"s":"x=0","t":45.6,"i":32},{"s":"x=0","t":45.9,"i":26},{"s":"x=0","t":46.2,"i":31},{"s":"x=0","t":46.5,"i":26},{"s":"x=0","t":46.8,"i":31},{"s":"x=0","t":47.1,"i":25},{"s":"x=0","t":47.4,"i":30},{"s":"x=0","t":47.7,"i":25},{"s":"x=0","t":48.0,"i":30},{"s":"x=0","t":48.3,"i":26},{"s":"x=0","t":48.6,"i":31},{"s":"x=0","t":48.9,"i":26},{"s":"x=0","t":49.2,"i":30},{"s":"x=0","t":49.5,"i":25},{"s":"x=0","t":49.8,"i":29},{"s":"x=0","t":50.1,"i":24},{"s":"x=0","t":50.4,"i":29},{"s":"x=0","t":50.7,"i":24},{"s":"x=0","t":51.0,"i":28},{"s":"x=0","t":51.3,"i":23},{"s":"x=0","t":51.6,"i":28},{"s":"x=0","t":51.9,"i":23},{"s":"x=0","t":52.2,"i":27},{"s":"x=0","t":52.5,"i":23},{"s":"x=0","t":52.8,"i":28},{"s":"x=0","t":53.1,"i":23},{"s":"x=0","t":53.4,"i":27},{"s":"x=0","t":53.7,"i":22},{"s":"x=0","t":54.0,"i":27},{"s":"x=0","t":54.3,"i":22},{"s":"x=0","t":54.6,"i":26},{"s":"x=0","t":54.9,"i":21},{"s":"x=0","t":55.2,"i":26},{"s":"x=0","t":55.5,"i":23},{"s":"x=0","t":55.8,"i":28},{"s":"x=0","t":56.1,"i":23},{"s":"x=0","t":56.4,"i":28},{"s":"x=0","t":56.7,"i":24},{"s":"x=0","t":57.0,"i":29},{"s":"x=0","t":57.3,"i":24},{"s":"x=0","t":57.6,"i":29},{"s":"x=0","t":57.9,"i":24},{"s":"x=0","t":58.2,"i":29},{"s":"x=0","t":58.5,"i":25},{"s":"x=0","t":58.8,"i":30},{"s":"x=0","t":59.1,"i":25},{"s":"x=0","t":59.4,"i":30},{"s":"x=0","t":59.7,"i":26},{"s":"x=0","t":60.0,"i":28}
],
"labels": [
{"s":"x=1","t":22.97,"i":830,"txt":"101","k":"hkl"},
{"s":"x=1","t":30.38,"i":846,"txt":"015","k":"hkl"},
{"s":"x=1","t":41.67,"i":789,"txt":"1010","k":"bold"},
{"s":"x=1","t":58.62,"i":789,"txt":"x=1","k":"comp"},
{"s":"x=0.9","t":30.5,"i":737,"txt":"015","k":"hkl"},
{"s":"x=0.9","t":24.06,"i":697,"txt":"101","k":"hkl"},
{"s":"x=0.9","t":42.51,"i":669,"txt":"1010","k":"hkl"},
{"s":"x=0.9","t":59.04,"i":652,"txt":"x=0.9","k":"comp"},
{"s":"x=0.7","t":23.72,"i":574,"txt":"101","k":"hkl"},
{"s":"x=0.7","t":30.84,"i":581,"txt":"015","k":"hkl"},
{"s":"x=0.7","t":42.51,"i":549,"txt":"1010","k":"hkl"},
{"s":"x=0.7","t":59.12,"i":529,"txt":"x=0.7","k":"comp"},
{"s":"x=0.5","t":30.0,"i":482,"txt":"015","k":"hkl"},
{"s":"x=0.5","t":24.06,"i":436,"txt":"101","k":"hkl"},
{"s":"x=0.5","t":40.5,"i":438,"txt":"1010","k":"hkl"},
{"s":"x=0.5","t":58.62,"i":400,"txt":"x=0.5","k":"comp"},
{"s":"x=0.3","t":28.66,"i":371,"txt":"015","k":"hkl"},
{"s":"x=0.3","t":24.31,"i":334,"txt":"101","k":"hkl"},
{"s":"x=0.3","t":40.25,"i":336,"txt":"1010","k":"hkl"},
{"s":"x=0.3","t":57.91,"i":292,"txt":"x=0.3","k":"comp"},
{"s":"x=0.1","t":28.83,"i":269,"txt":"015","k":"hkl"},
{"s":"x=0.1","t":23.35,"i":210,"txt":"101","k":"hkl"},
{"s":"x=0.1","t":40.21,"i":212,"txt":"1010","k":"hkl"},
{"s":"x=0.1","t":58.2,"i":180,"txt":"x=0.1","k":"comp"},
{"s":"x=0","t":27.62,"i":144,"txt":"015","k":"hkl"},
{"s":"x=0","t":23.77,"i":114,"txt":"101","k":"hkl"},
{"s":"x=0","t":39.25,"i":88,"txt":"1010","k":"hkl"},
{"s":"x=0","t":57.99,"i":64,"txt":"x=0","k":"comp"}
]
},
"layer": [
{
"data": {"name": "xrd"},
"mark": {"type": "line", "color": "#0000ff", "strokeWidth": 4.2, "strokeJoin": "miter"},
"encoding": {
"x": {"field": "t", "type": "quantitative",
"scale": {"domain": [20, 60], "nice": false, "zero": false},
"axis": {"values": [20,25,30,35,40,45,50,55,60], "labelExpr": "datum.value % 10 === 0 ? datum.label : ''",
"grid": false, "domainColor": "#000", "domainWidth": 5, "tickColor": "#000", "tickWidth": 3, "tickSize": 10,
"labelFont": "Liberation Sans", "labelFontWeight": "bold", "labelFontSize": 31, "labelColor": "#111",
"labelPadding": 12, "labelFlush": false, "labelOverlap": false, "labelBound": false,
"title": "2Θ (degree)", "titleFont": "Liberation Serif", "titleFontSize": 48, "titleFontWeight": "normal",
"titleColor": "#111", "titleX": 390, "titleY": 91, "titleBaseline": "middle", "titleAlign": "center"}},
"y": {"field": "i", "type": "quantitative",
"scale": {"domain": [0, 887], "nice": false, "zero": false},
"axis": {"ticks": false, "labels": false, "grid": false, "domainColor": "#000", "domainWidth": 6,
"title": "intensity (a.u)", "titleFont": "Liberation Serif", "titleFontSize": 44, "titleFontWeight": "normal",
"titleColor": "#3a3c70", "titleX": -54, "titleY": 458, "titleAngle": 270, "titleAlign": "center", "titleBaseline": "middle"}},
"detail": {"field": "s", "type": "nominal"}
}
},
{
"data": {"name": "labels"},
"transform": [{"filter": "datum.k === 'hkl'"}],
"mark": {"type": "text", "font": "DejaVu Serif", "fontSize": 30, "color": "#383a5e", "align": "center", "baseline": "middle"},
"encoding": {"x": {"field": "t", "type": "quantitative"}, "y": {"field": "i", "type": "quantitative"}, "text": {"field": "txt"}}
},
{
"data": {"name": "labels"},
"transform": [{"filter": "datum.k === 'comp'"}],
"mark": {"type": "text", "font": "DejaVu Serif", "fontSize": 36, "color": "#383a5e", "align": "center", "baseline": "middle"},
"encoding": {"x": {"field": "t", "type": "quantitative"}, "y": {"field": "i", "type": "quantitative"}, "text": {"field": "txt"}}
},
{
"data": {"name": "labels"},
"transform": [{"filter": "datum.k === 'bold'"}],
"mark": {"type": "text", "font": "DejaVu Sans", "fontWeight": "bold", "fontSize": 23, "color": "#111", "align": "center", "baseline": "middle"},
"encoding": {"x": {"field": "t", "type": "quantitative"}, "y": {"field": "i", "type": "quantitative"}, "text": {"field": "txt"}}
},
{
"data": {"values": [{}]},
"mark": {"type": "rule", "color": "#1e2070", "strokeWidth": 6},
"encoding": {"x": {"datum": 20, "type": "quantitative"}, "y": {"datum": 822, "type": "quantitative"}, "y2": {"datum": 887}}
},
{
"data": {"values": [{}]},
"mark": {"type": "rect", "filled": false, "stroke": "#000", "strokeWidth": 10},
"encoding": {"x": {"datum": 16.03, "type": "quantitative"}, "x2": {"datum": 62.34}, "y": {"datum": 902, "type": "quantitative"}, "y2": {"datum": -154}}
},
{
"data": {"values": [{}]},
"mark": {"type": "rect", "filled": false, "stroke": "#000", "strokeWidth": 3},
"encoding": {"x": {"datum": 16.49, "type": "quantitative"}, "x2": {"datum": 62.05}, "y": {"datum": 891, "type": "quantitative"}, "y2": {"datum": -146}}
}
]
}
